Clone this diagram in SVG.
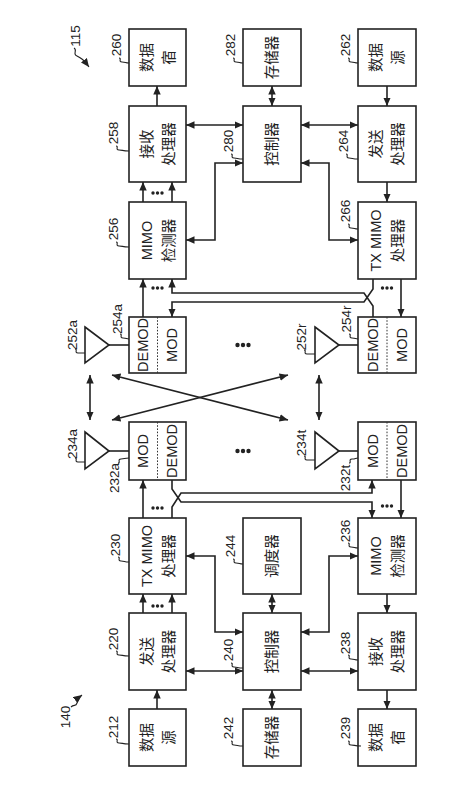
<svg xmlns="http://www.w3.org/2000/svg" width="470" height="786" viewBox="0 0 470 786">
<style>
.b{fill:#fff;stroke:#222;stroke-width:1.6}
.c{fill:none;stroke:#222;stroke-width:1.6}
.d{fill:none;stroke:#333;stroke-width:1;stroke-dasharray:1.6,1.6}
.s{fill:none;stroke:#222;stroke-width:1.1}
.t{font-family:"Liberation Sans","Noto Sans CJK SC",sans-serif;font-size:14.5px;fill:#222;text-anchor:middle;dominant-baseline:central}
.n{font-family:"Liberation Sans",sans-serif;font-size:13.5px;fill:#222;text-anchor:middle;dominant-baseline:central}
.a{marker-end:url(#ah)}
.aa{marker-start:url(#ah);marker-end:url(#ah)}
.dt{fill:#222}
</style>
<defs>
<marker id="ah" markerUnits="userSpaceOnUse" markerWidth="9" markerHeight="8" refX="8.5" refY="3.75" orient="auto-start-reverse"><path d="M0,0 L8.5,3.75 L0,7.5 z" fill="#222"/></marker>
<g id="sd"><circle cx="-4.5" cy="0" r="1.7"/><circle cx="0" cy="0" r="1.7"/><circle cx="4.5" cy="0" r="1.7"/></g>
<g id="ld"><circle cx="-5.5" cy="0" r="2.2"/><circle cx="0" cy="0" r="2.2"/><circle cx="5.5" cy="0" r="2.2"/></g>
</defs>

<g id="connectors">
<line class="c a" x1="157" y1="106" x2="157" y2="86"/>
<line class="c aa" x1="272" y1="106" x2="272" y2="86"/>
<line class="c a" x1="387" y1="86" x2="387" y2="106"/>
<line class="c aa" x1="186" y1="125" x2="243" y2="125"/>
<line class="c aa" x1="301" y1="125" x2="358" y2="125"/>
<line class="c a" x1="143" y1="202" x2="143" y2="182"/>
<line class="c a" x1="172" y1="202" x2="172" y2="182"/>
<line class="c a" x1="387" y1="182" x2="387" y2="202"/>
<path class="c aa" d="M186,240 H215 V163 H243"/>
<path class="c aa" d="M358,240 H329 V163 H301"/>
<line class="c a" x1="401" y1="279" x2="401" y2="317"/>
<path class="c a" d="M373,279 V289 L364,302 H172 V317"/>
<path class="c a" d="M373,317 V306 L364,293 H172 V279"/>
<line class="c a" x1="143" y1="317" x2="143" y2="279"/>
<line class="c" x1="109" y1="345" x2="129" y2="345"/>
<line class="c" x1="339" y1="345" x2="358" y2="345"/>
<line class="c" x1="109" y1="451" x2="129" y2="451"/>
<line class="c" x1="339" y1="451" x2="358" y2="451"/>
<line class="c aa" x1="90" y1="375" x2="90" y2="420"/>
<line class="c aa" x1="319" y1="375" x2="319" y2="420"/>
<line class="c aa" x1="112" y1="375" x2="288" y2="420"/>
<line class="c aa" x1="112" y1="420" x2="288" y2="375"/>
<line class="c a" x1="143" y1="518" x2="143" y2="480"/>
<path class="c a" d="M172,518 V507 L181,493 H372 V480"/>
<path class="c a" d="M172,480 V489 L181,502 H372 V518"/>
<line class="c a" x1="401" y1="480" x2="401" y2="518"/>
<line class="c a" x1="143" y1="613" x2="143" y2="594"/>
<line class="c a" x1="172" y1="613" x2="172" y2="594"/>
<path class="c aa" d="M186,556 H215 V632 H243"/>
<path class="c aa" d="M358,556 H329 V632 H301"/>
<line class="c aa" x1="272" y1="594" x2="272" y2="613"/>
<line class="c a" x1="387" y1="594" x2="387" y2="613"/>
<line class="c aa" x1="186" y1="671" x2="243" y2="671"/>
<line class="c aa" x1="301" y1="671" x2="358" y2="671"/>
<line class="c a" x1="157" y1="709" x2="157" y2="690"/>
<line class="c aa" x1="272" y1="709" x2="272" y2="690"/>
<line class="c a" x1="387" y1="690" x2="387" y2="709"/>
<g class="dt">
<use href="#sd" x="157.5" y="193"/>
<use href="#sd" x="157.5" y="288"/>
<use href="#sd" x="387" y="288"/>
<use href="#sd" x="157.5" y="508"/>
<use href="#sd" x="387" y="506"/>
<use href="#sd" x="157.5" y="606"/>
<use href="#ld" x="243" y="345"/>
<use href="#ld" x="243" y="451"/>
</g>
</g>

<g id="ref115">
<text class="n" transform="translate(75,36) rotate(-90)">115</text>
<path class="s a" d="M74,48 c 4,2 -2,6 3,8 c 4,2 6,3 12,11"/>
</g>
<g id="ref140">
<text class="n" transform="translate(65,717) rotate(-90)">140</text>
<path class="s a" d="M71,707 c 3,-3 5,0 6,-4 c 1,-3 1,-5 5,-8"/>
</g>

<g id="n260"><rect class="b" x="129" y="29" width="57" height="57"/>
<text class="t" transform="translate(157.5,57.5) rotate(-90)"><tspan x="0" y="-11">数据</tspan><tspan x="0" y="11">宿</tspan></text>
<text class="n" transform="translate(116,45) rotate(-90)">260</text><path class="s" d="M119,58 c 3,0 -1,4 3,4 s 3,1 7,1"/></g>
<g id="n282"><rect class="b" x="243" y="29" width="58" height="57"/>
<text class="t" transform="translate(272,57.5) rotate(-90)">存储器</text>
<text class="n" transform="translate(230,45) rotate(-90)">282</text><path class="s" d="M233,58 c 3,0 -1,4 3,4 s 3,1 7,1"/></g>
<g id="n262"><rect class="b" x="358" y="29" width="58" height="57"/>
<text class="t" transform="translate(387,57.5) rotate(-90)"><tspan x="0" y="-11">数据</tspan><tspan x="0" y="11">源</tspan></text>
<text class="n" transform="translate(345,45) rotate(-90)">262</text><path class="s" d="M348,58 c 3,0 -1,4 3,4 s 3,1 7,1"/></g>

<g id="n258"><rect class="b" x="129" y="106" width="57" height="76"/>
<text class="t" transform="translate(157.5,144) rotate(-90)"><tspan x="0" y="-11">接收</tspan><tspan x="0" y="11">处理器</tspan></text>
<text class="n" transform="translate(113,133) rotate(-90)">258</text><path class="s" d="M116,146 c 3,0 -1,4 3,4 s 3,1 10,1"/></g>
<g id="n280"><rect class="b" x="243" y="106" width="58" height="76"/>
<text class="t" transform="translate(272,144) rotate(-90)">控制器</text>
<text class="n" transform="translate(228,141) rotate(-90)">280</text><path class="s" d="M231,154 c 3,0 -1,4 3,4 s 3,1 9,1"/></g>
<g id="n264"><rect class="b" x="358" y="106" width="58" height="76"/>
<text class="t" transform="translate(387,144) rotate(-90)"><tspan x="0" y="-11">发送</tspan><tspan x="0" y="11">处理器</tspan></text>
<text class="n" transform="translate(343,141) rotate(-90)">264</text><path class="s" d="M346,154 c 3,0 -1,4 3,4 s 3,1 9,1"/></g>

<g id="n256"><rect class="b" x="129" y="202" width="57" height="77"/>
<text class="t" transform="translate(157.5,240.5) rotate(-90)"><tspan x="0" y="-11">MIMO</tspan><tspan x="0" y="11">检测器</tspan></text>
<text class="n" transform="translate(113,229) rotate(-90)">256</text><path class="s" d="M116,242 c 3,0 -1,4 3,4 s 3,1 10,1"/></g>
<g id="n266"><rect class="b" x="358" y="202" width="58" height="77"/>
<text class="t" transform="translate(387,240.5) rotate(-90)"><tspan x="0" y="-11">TX MIMO</tspan><tspan x="0" y="11">处理器</tspan></text>
<text class="n" transform="translate(345,211) rotate(-90)">266</text><path class="s" d="M348,224 c 3,0 -1,4 3,4 s 3,1 7,1"/></g>

<g id="n252a"><path class="b" d="M85,327 L109,345 L85,363 z"/>
<text class="n" transform="translate(72,335) rotate(-90)">252a</text><path class="s" d="M75,349 c 3,0 -1,4 3,4 s 3,0 7,0"/></g>
<g id="n254a"><rect class="b" x="129" y="317" width="57" height="56"/><line class="d" x1="157.5" y1="317" x2="157.5" y2="373"/>
<text class="t" transform="translate(143,345) rotate(-90)">DEMOD</text><text class="t" transform="translate(172,345) rotate(-90)">MOD</text>
<text class="n" transform="translate(117,319) rotate(-90)">254a</text><path class="s" d="M120,334 c 3,0 -1,4 3,4 s 3,1 6,1"/></g>
<g id="n252r"><path class="b" d="M315,327 L339,345 L315,363 z"/>
<text class="n" transform="translate(301,337) rotate(-90)">252r</text><path class="s" d="M304,350 c 3,0 -1,4 3,4 s 3,0 8,0"/></g>
<g id="n254r"><rect class="b" x="358" y="317" width="58" height="56"/><line class="d" x1="387" y1="317" x2="387" y2="373"/>
<text class="t" transform="translate(372.5,345) rotate(-90)">DEMOD</text><text class="t" transform="translate(401.5,345) rotate(-90)">MOD</text>
<text class="n" transform="translate(346,319) rotate(-90)">254r</text><path class="s" d="M349,334 c 3,0 -1,4 3,4 s 3,1 6,1"/></g>

<g id="n234a"><path class="b" d="M85,432 L109,451 L85,469 z"/>
<text class="n" transform="translate(72,444) rotate(-90)">234a</text><path class="s" d="M75,458 c 3,0 -1,4 3,4 s 3,0 7,0"/></g>
<g id="n232a"><rect class="b" x="129" y="422" width="57" height="58"/><line class="d" x1="157.5" y1="422" x2="157.5" y2="480"/>
<text class="t" transform="translate(143,451) rotate(-90)">MOD</text><text class="t" transform="translate(172,451) rotate(-90)">DEMOD</text>
<text class="n" transform="translate(114,478) rotate(-90)">232a</text><path class="s" d="M118,463 c 3,0 -1,-4 3,-4 s 3,-1 8,-1"/></g>
<g id="n234t"><path class="b" d="M315,432 L339,451 L315,469 z"/>
<text class="n" transform="translate(301,443) rotate(-90)">234t</text><path class="s" d="M304,456 c 3,0 -1,4 3,4 s 3,0 8,0"/></g>
<g id="n232t"><rect class="b" x="358" y="422" width="58" height="58"/><line class="d" x1="387" y1="422" x2="387" y2="480"/>
<text class="t" transform="translate(372.5,451) rotate(-90)">MOD</text><text class="t" transform="translate(401.5,451) rotate(-90)">DEMOD</text>
<text class="n" transform="translate(345,478) rotate(-90)">232t</text><path class="s" d="M349,463 c 3,0 -1,-4 3,-4 s 3,-1 6,-1"/></g>

<g id="n230"><rect class="b" x="129" y="518" width="57" height="76"/>
<text class="t" transform="translate(157.5,556) rotate(-90)"><tspan x="0" y="-11">TX MIMO</tspan><tspan x="0" y="11">处理器</tspan></text>
<text class="n" transform="translate(115,545) rotate(-90)">230</text><path class="s" d="M118,557 c 3,0 -1,4 3,4 s 3,1 8,1"/></g>
<g id="n244"><rect class="b" x="243" y="518" width="58" height="76"/>
<text class="t" transform="translate(272,556) rotate(-90)">调度器</text>
<text class="n" transform="translate(230,546) rotate(-90)">244</text><path class="s" d="M233,559 c 3,0 -1,4 3,4 s 3,1 7,1"/></g>
<g id="n236"><rect class="b" x="358" y="518" width="58" height="76"/>
<text class="t" transform="translate(387,556) rotate(-90)"><tspan x="0" y="-11">MIMO</tspan><tspan x="0" y="11">检测器</tspan></text>
<text class="n" transform="translate(345,531) rotate(-90)">236</text><path class="s" d="M348,543 c 3,0 -1,4 3,4 s 3,1 7,1"/></g>

<g id="n220"><rect class="b" x="129" y="613" width="57" height="77"/>
<text class="t" transform="translate(157.5,651.5) rotate(-90)"><tspan x="0" y="-11">发送</tspan><tspan x="0" y="11">处理器</tspan></text>
<text class="n" transform="translate(113,639) rotate(-90)">220</text><path class="s" d="M116,651 c 3,0 -1,4 3,4 s 3,1 10,1"/></g>
<g id="n240"><rect class="b" x="243" y="613" width="58" height="77"/>
<text class="t" transform="translate(272,651.5) rotate(-90)">控制器</text>
<text class="n" transform="translate(228,650) rotate(-90)">240</text><path class="s" d="M231,663 c 3,0 -1,4 3,4 s 3,1 9,1"/></g>
<g id="n238"><rect class="b" x="358" y="613" width="58" height="77"/>
<text class="t" transform="translate(387,651.5) rotate(-90)"><tspan x="0" y="-11">接收</tspan><tspan x="0" y="11">处理器</tspan></text>
<text class="n" transform="translate(345,643) rotate(-90)">238</text><path class="s" d="M348,655 c 3,0 -1,4 3,4 s 3,1 7,1"/></g>

<g id="n212"><rect class="b" x="129" y="709" width="57" height="57"/>
<text class="t" transform="translate(157.5,737.5) rotate(-90)"><tspan x="0" y="-11">数据</tspan><tspan x="0" y="11">源</tspan></text>
<text class="n" transform="translate(113,727) rotate(-90)">212</text><path class="s" d="M116,739 c 3,0 -1,4 3,4 s 3,1 10,1"/></g>
<g id="n242"><rect class="b" x="243" y="709" width="58" height="57"/>
<text class="t" transform="translate(272,737.5) rotate(-90)">存储器</text>
<text class="n" transform="translate(228,728) rotate(-90)">242</text><path class="s" d="M231,741 c 3,0 -1,4 3,4 s 3,1 9,1"/></g>
<g id="n239"><rect class="b" x="358" y="709" width="58" height="57"/>
<text class="t" transform="translate(387,737.5) rotate(-90)"><tspan x="0" y="-11">数据</tspan><tspan x="0" y="11">宿</tspan></text>
<text class="n" transform="translate(345,728) rotate(-90)">239</text><path class="s" d="M348,741 c 3,0 -1,4 3,4 s 3,1 10,1"/></g>
</svg>
